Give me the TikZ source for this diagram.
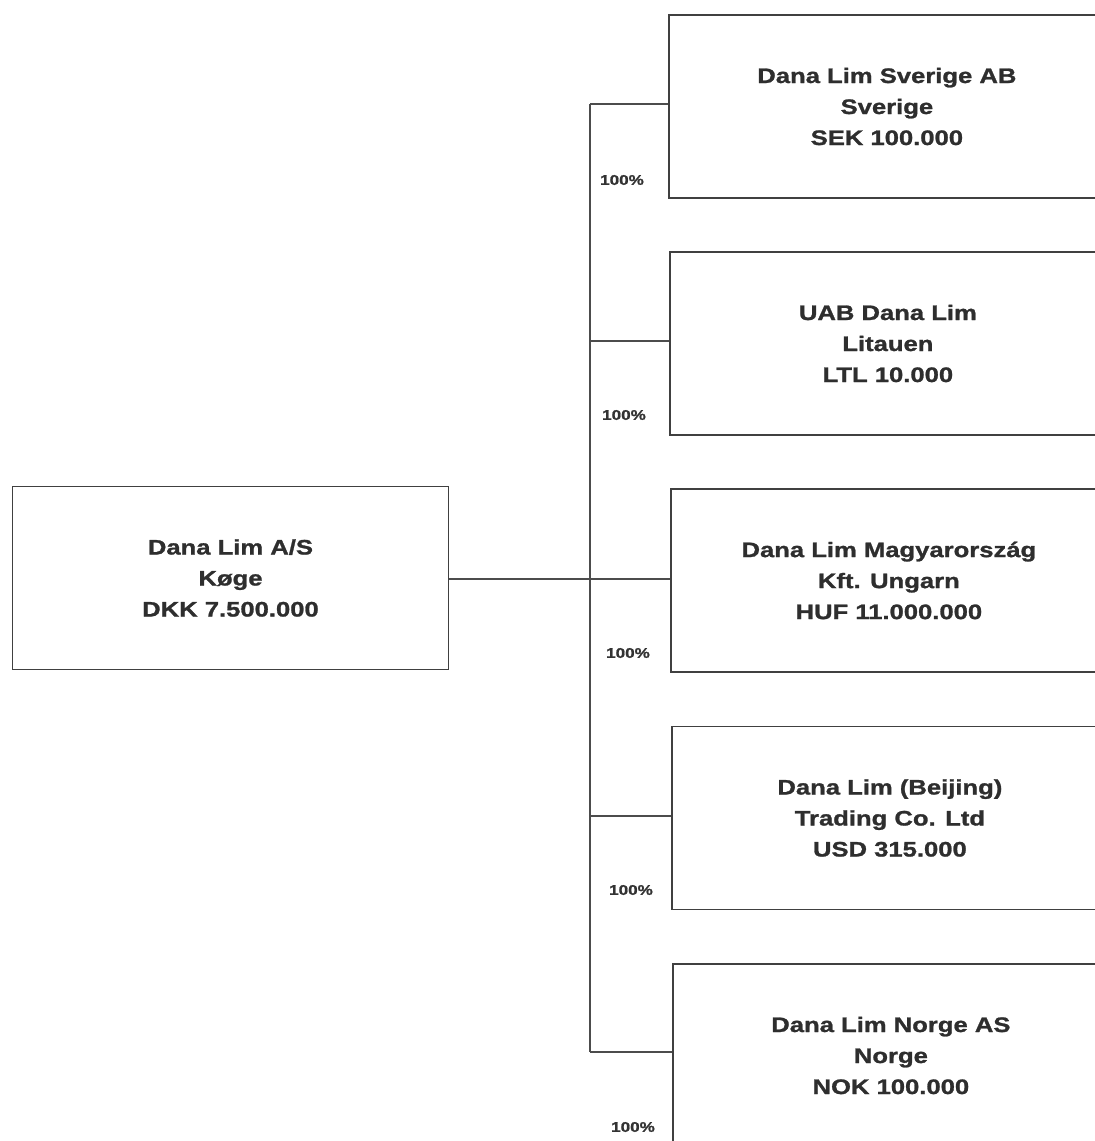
\documentclass[tikz,border=0pt]{standalone}
\usepackage{fontspec}
\setmainfont{Liberation Sans}[FakeStretch=1.22,BoldFeatures={FakeBold=1.2}]
\begin{document}
\begin{tikzpicture}[x=1pt,y=-1pt,
  cobox/.style={draw=black!75,line width=1.8pt,minimum width=436pt,minimum height=183pt,inner sep=0pt,
    align=center,font=\fontsize{21}{31}\selectfont\bfseries,text=black!82},
  link/.style={draw=black!70,line width=1.5pt},
  pct/.style={font=\fontsize{14}{16}\selectfont\bfseries,text=black!80}]
\useasboundingbox (0,0) rectangle (1095,1141);
\clip (0,0) rectangle (1095,1141);
\node[cobox] (m) at (230.5,578) {Dana Lim A/S\\Køge\\DKK 7.500.000};
\node[cobox,anchor=west] (s1) at (668,106.5) {Dana Lim Sverige AB\\Sverige\\SEK 100.000};
\node[cobox,anchor=west] (s2) at (669,343.5) {UAB Dana Lim\\Litauen\\LTL 10.000};
\node[cobox,anchor=west] (s3) at (670,580.5) {Dana Lim Magyarország\\Kft. Ungarn\\HUF 11.000.000};
\node[cobox,anchor=west] (s4) at (671,818) {Dana Lim (Beijing)\\Trading Co. Ltd\\USD 315.000};
\node[cobox,anchor=west] (s5) at (672,1055.5) {Dana Lim Norge AS\\Norge\\NOK 100.000};
\coordinate (t) at (590,104);
\coordinate (b) at (590,1052);
\draw[link] (t) -- (b);
\draw[link] (t) -- (s1.west |- t);
\draw[link] (590,341) -- (s2.west |- 0,341);
\draw[link] (m.east |- 0,579) -- (s3.west |- 0,579);
\draw[link] (590,816) -- (s4.west |- 0,816);
\draw[link] (b) -- (s5.west |- b);
\node[pct] (p1) at (622,180) {100\%};
\node[pct] (p2) at (624,415) {100\%};
\node[pct] (p3) at (628,653) {100\%};
\node[pct] (p4) at (631,890) {100\%};
\node[pct] (p5) at (633,1127) {100\%};
\end{tikzpicture}
\end{document}
